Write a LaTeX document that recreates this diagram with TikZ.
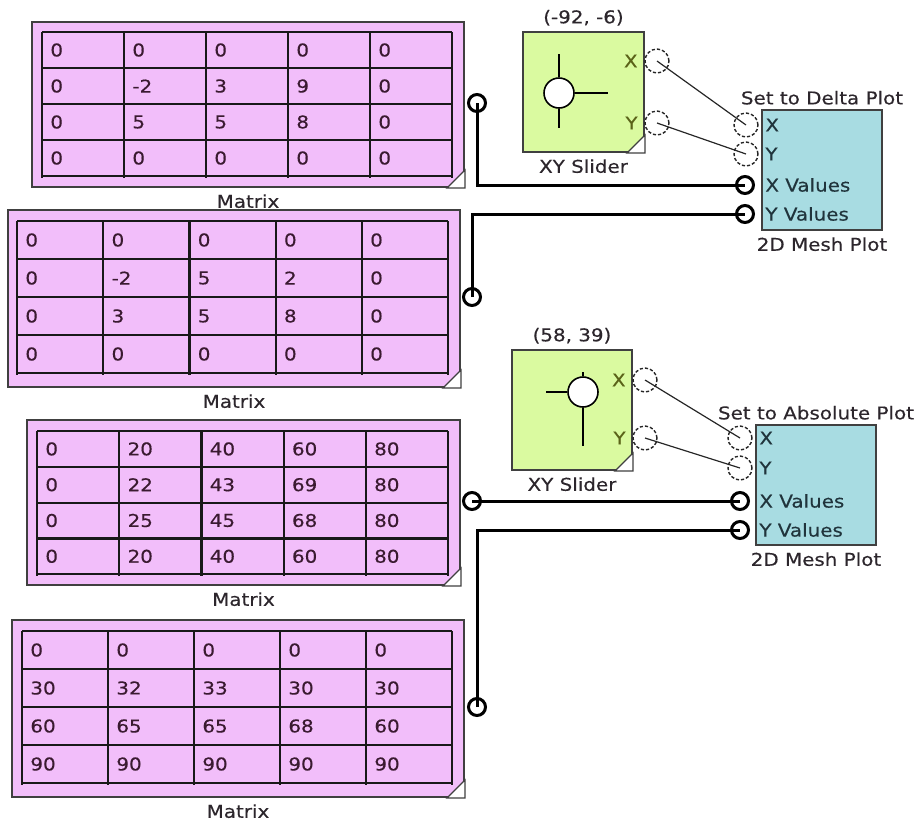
\documentclass[tikz,border=0pt]{standalone}
\usepackage{fontspec}
\setmainfont{DejaVu Sans}[FakeStretch=1.13,FakeBold=0.35]
\usetikzlibrary{positioning,fit}
\definecolor{matpink}{RGB}{242,190,250}
\definecolor{slgreen}{RGB}{218,250,160}
\definecolor{meshteal}{RGB}{168,220,226}
\definecolor{celltxt}{RGB}{58,26,48}
\definecolor{lbltxt}{RGB}{44,38,44}
\definecolor{sltxt}{RGB}{90,98,24}
\definecolor{meshtxt}{RGB}{32,52,60}

% grid of a matrix block: name, x0, y0, column width, row height, rows
\newcommand\cells[6]{%
  \foreach \i in {0,...,4} \draw[gridline] (#2,#3+\i*#5) -- ++(5*#4,0);
  \foreach \j in {0,...,5} \draw[gridline] (#2+\j*#4,#3) -- ++(0,4*#5+2);
  \foreach \r [count=\i from 0] in {#6}
    \foreach \v [count=\j from 0] in \r
      \node[cell] (#1-\i-\j) at (#2+\j*#4+8,#3+\i*#5+#5/2) {\v};}
\newcommand\fold[1]{\draw[black!75,line width=0.6pt,fill=white] (#1.south east) -- ++(-9pt,0pt) -- ++(9pt,9pt) -- cycle;}

\begin{document}
\begin{tikzpicture}[x=0.5pt,y=-0.5pt,
  font=\fontsize{8.8pt}{10pt}\selectfont,
  mat/.style={draw=black!75,line width=1pt,fill=matpink,inner sep=0pt},
  slider/.style={draw=black!75,line width=1pt,fill=slgreen,inner sep=0pt},
  mesh/.style={draw=black!75,line width=1pt,fill=meshteal,inner sep=0pt},
  gridline/.style={line width=1.1pt,black!90},
  cell/.style={anchor=west,inner sep=0pt,text=celltxt},
  lbl/.style={inner sep=1pt,text=lbltxt},
  sllbl/.style={inner sep=3.5pt,anchor=east,text=sltxt},
  plbl/.style={inner sep=2pt,anchor=west,text=meshtxt},
  port/.style={circle,draw=black,line width=1.5pt,minimum size=8.5pt,inner sep=0pt},
  dport/.style={circle,draw=black!85,line width=0.7pt,dash pattern=on 1.6pt off 1pt,minimum size=12pt,inner sep=0pt},
  knob/.style={circle,draw=black,line width=0.8pt,fill=white,minimum size=15pt,inner sep=0pt},
  knobline/.style={line width=1pt},
  wire/.style={line width=1.5pt},
  link/.style={line width=0.6pt,black!85}]
\useasboundingbox (0,0) rectangle (921,821);

% matrices
\node[mat,fit={(32,22) (464,187)}] (m1) {};
\cells{m1}{42}{32}{82}{36}{{0,0,0,0,0},{0,-2,3,9,0},{0,5,5,8,0},{0,0,0,0,0}}
\fold{m1}
\node[lbl,below=2pt of m1] (m1-lbl) {Matrix};
\node[port] (m1-out) at (477,103) {};

\node[mat,fit={(8,210) (460,387)}] (m2) {};
\cells{m2}{17}{221}{86.2}{38}{{0,0,0,0,0},{0,-2,5,2,0},{0,3,5,8,0},{0,0,0,0,0}}
\fold{m2}
\node[lbl,below=2pt of m2] (m2-lbl) {Matrix};
\node[port] (m2-out) at (472,297) {};

\node[mat,fit={(27,420) (460,585)}] (m3) {};
\cells{m3}{37}{431}{82.2}{35.8}{{0,20,40,60,80},{0,22,43,69,80},{0,25,45,68,80},{0,20,40,60,80}}
\fold{m3}
\node[lbl,below=2pt of m3] (m3-lbl) {Matrix};
\node[port] (m3-out) at (472,501) {};

\node[mat,fit={(12,620) (464,797)}] (m4) {};
\cells{m4}{22}{631}{86}{38}{{0,0,0,0,0},{30,32,33,30,30},{60,65,65,68,60},{90,90,90,90,90}}
\fold{m4}
\node[lbl,below=2pt of m4] (m4-lbl) {Matrix};
\node[port] (m4-out) at (477,707) {};

% xy sliders
\node[slider,fit={(523,32) (644,152)}] (s1) {};
\fold{s1}
\node[lbl,above=1.5pt of s1] (s1-val) {(-92, -6)};
\node[lbl,below=2pt of s1] (s1-lbl) {XY Slider};
\node[knob] (s1-knob) at (559,93) {};
\draw[knobline] (s1-knob.north) -- ++(0,-23) (s1-knob.south) -- ++(0,19) (s1-knob.east) -- ++(33,0);
\node[dport] (s1-x) at (657,61) {};
\node[dport] (s1-y) at (657,123) {};
\node[sllbl] at (s1.east |- s1-x) {X};
\node[sllbl] at (s1.east |- s1-y) {Y};

\node[slider,fit={(512,350) (632,470)}] (s2) {};
\fold{s2}
\node[lbl,above=1.5pt of s2] (s2-val) {(58, 39)};
\node[lbl,below=2pt of s2] (s2-lbl) {XY Slider};
\node[knob] (s2-knob) at (583,392) {};
\draw[knobline] (s2-knob.north) -- ++(0,-4) (s2-knob.south) -- ++(0,38) (s2-knob.west) -- ++(-21,0);
\node[dport] (s2-x) at (645,380) {};
\node[dport] (s2-y) at (645,438) {};
\node[sllbl] at (s2.east |- s2-x) {X};
\node[sllbl] at (s2.east |- s2-y) {Y};

% mesh plots
\node[mesh,fit={(762,110) (882,230)}] (p1) {};
\node[lbl,above=1pt of p1] (p1-set) {Set to Delta Plot};
\node[lbl,below=2pt of p1] (p1-lbl) {2D Mesh Plot};
\node[dport] (p1-x) at (746,125) {};
\node[dport] (p1-y) at (746,154) {};
\node[port] (p1-xv) at (745,185) {};
\node[port] (p1-yv) at (745,214) {};
\foreach \p/\t in {x/X,y/Y,xv/X Values,yv/Y Values}
  \node[plbl] (p1-\p-lbl) at (p1.west |- p1-\p) {\t};

\node[mesh,fit={(756,425) (876,545)}] (p2) {};
\node[lbl,above=1pt of p2] (p2-set) {Set to Absolute Plot};
\node[lbl,below=2pt of p2] (p2-lbl) {2D Mesh Plot};
\node[dport] (p2-x) at (740,438) {};
\node[dport] (p2-y) at (740,468) {};
\node[port] (p2-xv) at (740,501) {};
\node[port] (p2-yv) at (740,530) {};
\foreach \p/\t in {x/X,y/Y,xv/X Values,yv/Y Values}
  \node[plbl] (p2-\p-lbl) at (p2.west |- p2-\p) {\t};

% connections
\draw[wire] (m1-out.center) |- (p1-xv.center);
\draw[wire] (m2-out.center) |- (p1-yv.center);
\draw[wire] (m3-out.center) -- (p2-xv.center);
\draw[wire] (m4-out.center) |- (p2-yv.center);
\draw[link] (s1-x.center) -- (p1-x.center);
\draw[link] (s1-y.center) -- (p1-y.center);
\draw[link] (s2-x.center) -- (p2-x.center);
\draw[link] (s2-y.center) -- (p2-y.center);
\end{tikzpicture}
\end{document}
